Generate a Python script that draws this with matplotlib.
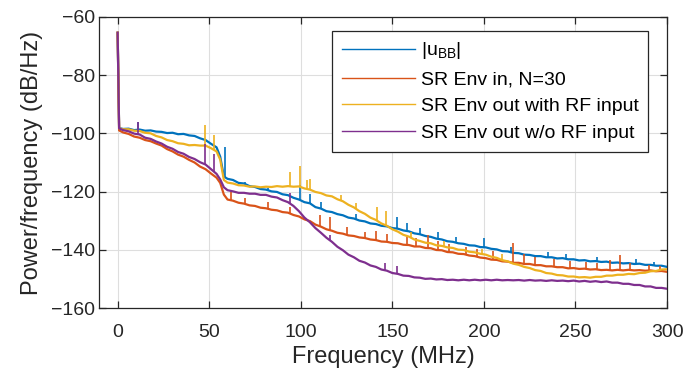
import numpy as np
import matplotlib
matplotlib.use("Agg")
import matplotlib.pyplot as plt

plt.rcParams['font.family'] = ['Liberation Sans', 'DejaVu Sans']
plt.rcParams['mathtext.fontset'] = 'custom'
plt.rcParams['mathtext.rm'] = 'Liberation Sans'

freq = [0, 0.8, 3, 6, 9, 12, 15, 18, 21, 24,
        27, 30, 33, 36, 39, 42, 45, 48, 51, 54,
        56, 58, 60, 63, 66, 69, 72, 75, 78, 81,
        84, 87, 90, 93, 96, 99, 102, 105, 108, 111,
        114, 117, 120, 123, 126, 129, 132, 135, 138, 141,
        144, 147, 150, 153, 156, 159, 162, 165, 168, 171,
        174, 177, 180, 183, 186, 189, 192, 195, 198, 201,
        204, 207, 210, 213, 216, 219, 222, 225, 228, 231,
        234, 237, 240, 243, 246, 249, 252, 255, 258, 261,
        264, 267, 270, 273, 276, 279, 282, 285, 288, 291,
        294, 297, 300]

psd_ubb = [-65.5, -98.2, -98.5, -98.4, -98.9, -98.7, -99.1, -99.0, -99.4, -99.5,
           -99.9, -99.8, -100.3, -100.2, -100.7, -100.9, -101.7, -102.3, -103.6, -104.8,
           -108.0, -114.8, -115.6, -116.0, -117.0, -117.2, -118.1, -118.4, -119.1, -119.3,
           -119.9, -120.1, -120.9, -121.2, -122.1, -122.7, -123.6, -124.0, -125.3, -125.8,
           -126.7, -127.0, -127.7, -128.1, -128.9, -129.2, -129.9, -130.2, -130.9, -131.1,
           -131.7, -131.9, -132.5, -132.7, -133.3, -133.6, -134.3, -134.6, -135.2, -135.5,
           -136.1, -136.4, -137.0, -137.2, -137.7, -137.9, -138.4, -138.5, -139.0, -139.1,
           -139.6, -139.8, -140.4, -140.5, -141.0, -141.1, -141.6, -141.7, -142.1, -142.1,
           -142.5, -142.5, -142.9, -142.8, -143.2, -143.2, -143.6, -143.5, -143.9, -143.8,
           -144.1, -144.0, -144.4, -144.3, -144.6, -144.5, -144.8, -144.7, -145.1, -145.1,
           -145.4, -145.4, -145.8]

psd_env_in = [-65.5, -99.0, -99.7, -100.2, -101.1, -101.5, -102.3, -102.7, -103.5, -104.2,
              -105.4, -106.2, -107.3, -108.0, -109.1, -110.0, -111.4, -112.3, -113.8, -115.2,
              -117.0, -121.0, -122.7, -123.1, -123.8, -124.1, -124.7, -124.9, -125.5, -125.7,
              -126.2, -126.4, -127.0, -127.2, -128.0, -128.5, -129.5, -130.1, -131.3, -132.0,
              -132.9, -133.4, -134.1, -134.4, -135.0, -135.2, -135.7, -135.9, -136.4, -136.6,
              -137.1, -137.2, -137.6, -137.7, -138.2, -138.3, -138.8, -138.8, -139.3, -139.4,
              -140.0, -140.1, -140.7, -140.8, -141.3, -141.4, -141.9, -142.1, -142.6, -142.8,
              -143.3, -143.4, -143.9, -144.0, -144.4, -144.4, -144.8, -144.8, -145.2, -145.2,
              -145.6, -145.6, -145.9, -145.9, -146.3, -146.2, -146.5, -146.4, -146.7, -146.6,
              -146.9, -146.8, -147.0, -146.8, -147.0, -146.8, -147.0, -146.9, -147.1, -147.0,
              -147.3, -147.2, -147.5]

psd_out_rf = [-65.5, -98.3, -98.6, -98.6, -99.1, -99.2, -99.8, -100.0, -100.9, -101.4,
              -102.3, -102.7, -103.4, -103.6, -104.1, -104.0, -104.2, -104.2, -105.1, -106.2,
              -109.0, -116.0, -116.9, -117.2, -117.8, -117.9, -118.3, -118.2, -118.5, -118.3,
              -118.4, -118.1, -118.3, -118.1, -118.3, -118.2, -118.9, -119.3, -120.1, -120.5,
              -121.3, -121.6, -122.6, -123.3, -124.5, -125.4, -126.7, -127.6, -128.9, -129.7,
              -130.9, -131.7, -132.9, -133.7, -134.8, -135.4, -136.4, -136.9, -137.5, -137.7,
              -138.4, -138.6, -139.1, -139.3, -139.9, -140.0, -140.6, -140.8, -141.3, -141.6,
              -142.3, -142.7, -143.5, -143.9, -144.7, -145.1, -145.8, -146.2, -146.9, -147.2,
              -147.9, -148.1, -148.6, -148.7, -149.1, -149.1, -149.4, -149.3, -149.5, -149.2,
              -149.2, -148.8, -148.8, -148.5, -148.5, -148.2, -148.3, -147.9, -147.8, -147.3,
              -147.2, -146.7, -146.6]

psd_out_norf = [-65.5, -98.3, -98.9, -99.3, -100.1, -100.4, -101.5, -101.9, -102.8, -103.5,
                -104.6, -105.3, -106.4, -107.0, -108.1, -108.8, -109.9, -110.7, -112.3, -113.9,
                -115.8, -118.5, -119.5, -119.9, -120.4, -120.4, -120.7, -120.7, -121.1, -121.1,
                -121.7, -122.0, -122.9, -123.6, -124.9, -126.7, -128.9, -130.5, -132.5, -134.1,
                -135.8, -137.2, -138.9, -140.1, -141.6, -142.5, -143.7, -144.3, -145.3, -145.8,
                -146.7, -147.1, -147.9, -148.2, -148.8, -148.9, -149.4, -149.5, -149.9, -149.8,
                -150.1, -150.0, -150.3, -150.2, -150.4, -150.2, -150.4, -150.2, -150.4, -150.2,
                -150.4, -150.2, -150.4, -150.3, -150.4, -150.3, -150.5, -150.3, -150.5, -150.4,
                -150.6, -150.4, -150.6, -150.5, -150.7, -150.5, -150.8, -150.6, -150.9, -150.7,
                -151.0, -150.8, -151.2, -151.2, -151.6, -151.6, -152.0, -152.0, -152.5, -152.5,
                -153.0, -153.0, -153.3]

# narrow spectral spurs: frequency (MHz) and peak level (dB/Hz)
spur_ubb_f = [11, 58.6, 69.6, 82.3, 99.6, 105, 111, 130, 152.4, 157.9, 165, 175, 185,
              199.8, 215, 235, 245, 262, 283, 293]
spur_ubb_top = [-96.0, -104.6, -116.6, -118.6, -117.8, -120.8, -123.4, -127.6, -128.6,
                -130.7, -132.6, -134.0, -135.6, -135.9, -139.0, -140.6, -141.3, -142.3,
                -143.2, -144.0]
spur_in_f = [62, 69.7, 82.3, 94.2, 110.5, 116.2, 125, 135, 141, 147, 158, 163, 169.6, 175,
             181, 190, 196, 205, 216, 222, 228, 238, 247, 256, 262, 269, 274.5, 280, 290, 296]
spur_in_top = [-120.0, -122.3, -123.4, -125.2, -128.0, -128.8, -132.0, -133.7, -133.5,
               -134.5, -135.5, -135.8, -134.9, -137.0, -138.0, -139.0, -139.5, -140.5,
               -137.7, -141.5, -142.5, -143.0, -143.8, -144.0, -144.3, -143.4, -141.7,
               -144.5, -145.3, -145.6]
spur_rf_f = [47.5, 52.7, 94.2, 99.6, 103.3, 105.3, 122, 130, 141.5, 146.5, 160, 178, 199, 210]
spur_rf_top = [-97.0, -100.5, -113.2, -111.2, -116.0, -115.5, -121.0, -123.8, -125.3,
               -126.6, -134.0, -136.8, -139.5, -141.5]
spur_norf_f = [11, 47.5, 52.7, 94.2, 116, 146, 152.4]
spur_norf_top = [-96.0, -103.5, -107.0, -120.5, -134.9, -144.6, -145.5]

labels = [r'|u$_\mathregular{BB}$|', 'SR Env in, N=30',
          'SR Env out with RF input', 'SR Env out w/o RF input']
colors = ['#0072BD', '#D95319', '#EDB120', '#7E2F8E']
series = [psd_ubb, psd_env_in, psd_out_rf, psd_out_norf]
spurs = [(spur_ubb_f, spur_ubb_top), (spur_in_f, spur_in_top),
         (spur_rf_f, spur_rf_top), (spur_norf_f, spur_norf_top)]

fig = plt.figure(figsize=(6.86, 3.81), dpi=100)
ax = fig.add_axes([0.1448, 0.1908, 0.8276, 0.7654])

for i, (s, c, lab, (sf, st)) in enumerate(zip(series, colors, labels, spurs)):
    ax.plot(freq, s, color=c, lw=1.6, label=lab, zorder=2 + i)
    base = np.interp(sf, freq, s)
    ax.vlines(sf, base, st, color=c, lw=1.2, zorder=2 + i)

ax.set_xlim(-10, 300)
ax.set_ylim(-160, -60)
ax.set_xticks([0, 50, 100, 150, 200, 250, 300])
ax.set_yticks([-160, -140, -120, -100, -80, -60])
ax.grid(True, color='#dedede', lw=0.8, zorder=0)
ax.set_axisbelow(True)
dark = '#262626'
for sp in ax.spines.values():
    sp.set_color(dark)
    sp.set_linewidth(0.9)
ax.tick_params(direction='in', length=5, width=0.9, colors=dark, labelsize=14,
               top=True, right=True)
ax.tick_params(axis='x', pad=11)
ax.tick_params(axis='y', pad=3)
ax.set_xlabel('Frequency (MHz)', fontsize=17, color=dark, labelpad=4)
ax.set_ylabel('Power/frequency (dB/Hz)', fontsize=17, color=dark, labelpad=6)

leg = ax.legend(loc='upper right', bbox_to_anchor=(0.9666, 0.952), fontsize=14,
                frameon=True, fancybox=False, framealpha=1, edgecolor=dark,
                handlelength=3.75, handletextpad=0.3, labelspacing=0.48,
                borderpad=0.5, borderaxespad=0.0)
leg.get_frame().set_linewidth(0.9)
for lh in leg.get_lines():
    lh.set_linewidth(1.0)

fig.savefig('out.png', dpi=100)
